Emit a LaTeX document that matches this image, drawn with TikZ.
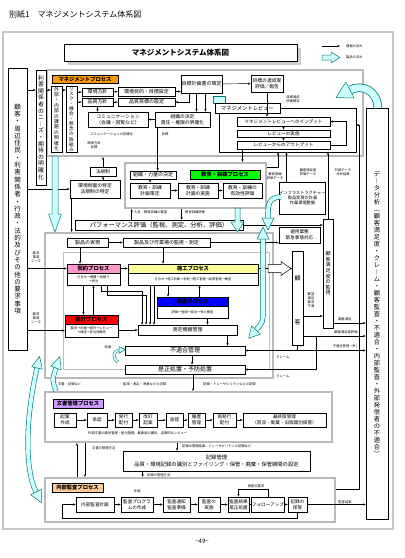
\documentclass[tikz,border=0pt]{standalone}
\usepackage{fontspec}
\setmainfont{Noto Sans CJK JP}
\usetikzlibrary{arrows.meta}
\definecolor{cOr}{RGB}{255,153,0}
\definecolor{cGr}{RGB}{0,255,0}
\definecolor{cPk}{RGB}{255,153,204}
\definecolor{cYe}{RGB}{255,255,153}
\definecolor{cBl}{RGB}{0,0,255}
\definecolor{cRd}{RGB}{255,0,0}
\definecolor{cLv}{RGB}{204,153,255}
\definecolor{cLo}{RGB}{255,204,153}
\definecolor{cCy}{RGB}{204,255,255}
\definecolor{cTl}{RGB}{0,120,120}
\makeatletter
\def\vt@loop#1{\ifx\relax#1\else\hbox to 0pt{\hss#1\hss}\expandafter\vt@loop\fi}
\newcommand\vtext[2]{\vbox{\lineskiplimit=-100pt\lineskip=0pt\baselineskip=#1pt\vt@loop#2\relax}}
\makeatother
\newcommand\fz[2]{\fontsize{#1}{#2}\selectfont}
\newcommand\bx[7][]{%
  \pgfmathsetmacro\bxw{#5-#3}\pgfmathsetmacro\bxh{#6-#4}%
  \node[boxx,minimum width=\bxw pt,minimum height=\bxh pt,#1] (#2) at ({(#3+#5)/2},{(#4+#6)/2}) {#7};}
\newcommand\cyshaft[3]{\draw[cTl,line width=#1] #3; \draw[cCy,line width=#2] #3;}
\begin{document}
\begin{tikzpicture}[x=1pt,y=-1pt,
  boxx/.style={draw,line width=0.7pt,fill=white,inner sep=0.3pt,align=center,font=\fz{5}{6}},
  labx/.style={boxx,font=\bfseries\fz{5.3}{6}},
  bodx/.style={boxx,line width=0.6pt,font=\fz{3.2}{4}},
  captx/.style={inner sep=0pt,align=center,font=\fz{3.3}{4}},
  gframe/.style={draw=gray!55,line width=2.2pt,fill=none},
  ar/.style={-{Stealth[length=2.6pt,width=2.2pt]},line width=0.45pt},
  lnx/.style={line width=0.45pt},
  cyf/.style={fill=cCy,draw=cTl,line width=0.5pt,line join=round}]
\useasboundingbox (0,0) rectangle (405,558);
\fill[white] (0,0) rectangle (405,558);

% title
\node[anchor=west,inner sep=0,font=\fz{8}{9}] (hdr) at (9,15) {別紙1　マネジメントシステム体系図};
\bx[draw=gray!45,line width=1.2pt,fill=none]{ofr}{3}{32}{393}{529}{}
\fill[gray!40] (68,48) rectangle (301,65);
\bx[line width=1pt,font=\bfseries\fz{7.5}{9}]{ttl}{64}{44}{297}{61}{マネジメントシステム体系図}

% legend
\coordinate (lga) at (322,46); \coordinate (lgb) at (340,46);
\draw[ar] (lga) -- (lgb);
\node[captx,anchor=west] (lgt1) at (346,46) {情報の流れ};
\filldraw[cyf] (322,55) -- (331,55) -- (331,52) -- (340,57.5) -- (331,63) -- (331,60) -- (322,60) -- cycle;
\node[captx,anchor=west] (lgt2) at (346,57.5) {製品の流れ};

% frames
\bx[gframe]{Mfr}{47}{70}{363}{156}{}
\bx[gframe]{Efr}{125}{163}{266}{208}{}
\bx[gframe]{Ffr}{45}{233}{273}{378}{}
\bx[draw=gray!50,line width=0.9pt,fill=none]{Fin}{63}{252}{269}{369}{}
\bx[gframe]{Dfr}{45}{392}{332}{442}{}
\bx[gframe]{Afr}{45}{478}{335}{522}{}

% big side boxes
\bx{cust}{8}{68}{27}{350}{\fz{6.5}{6.5}\vtext{7.3}{顧客・周辺住民・利害関係者・行政・法的及びその他の要求事項}}
\bx{need}{36}{70}{46}{185}{\fz{5.8}{5.8}\vtext{6.6}{利害関係者のニ︱ズ・期待の明確化}}
\bx{data}{366}{108}{388}{519}{\fz{6.2}{6.2}\vtext{7.0}{デ︱タ分析︵顧客満足度・クレ︱ム・顧客監査・不適合・内部監査・外部発信者の不適合︶}}

% management process
\bx[labx,fill=cOr]{mlab}{52}{75}{118}{83}{マネジメントプロセス}
\bx{iss}{51}{86}{62}{152}{\fz{4.8}{4.8}\vtext{5.4}{外部・内部の課題の明確化}}
\bx{risk}{66}{86}{77}{152}{\fz{4.6}{4.6}\vtext{5.1}{リスク・機会・懸念の取組み}}
\bx{kp}{82}{88}{113}{96}{環境方針}
\bx{hp}{82}{98}{113}{106}{品質方針}
\bx{km}{118}{87}{175}{96}{環境目的・目標設定}
\bx{hm}{118}{98}{175}{106}{品質目標の設定}
\bx{mk}{181}{75}{222}{93}{目標計画書の策定}
\bx[font=\fz{4.8}{6}]{ev}{251}{75}{283}{92}{目標の達成度\\評価／報告}
\bx[font=\fz{4.8}{6}]{com}{88}{112}{148}{127}{コミュニケーション\\（会議・回覧など）}
\bx[font=\fz{4.8}{6}]{org}{155}{112}{210}{127}{組織の決定\\責任・権限の明確化}
\filldraw[cyf] (213,96) rectangle (225,103);
\bx[fill=none]{mrf}{219}{108}{356}{152}{}
\bx[font=\fz{5.3}{6}]{mrlab}{215}{103}{280}{113}{マネジメントレビュー}
\bx[font=\fz{4.6}{5}]{rin}{237}{117}{330}{126}{マネジメントレビューへのインプット}
\bx[font=\fz{4.6}{5}]{rdo}{237}{130}{330}{137}{レビューの実施}
\bx[font=\fz{4.6}{5}]{rout}{237}{141}{330}{149}{レビューからのアウトプット}
\node[captx,anchor=west] (c1) at (90,134) {コミュニケーションの記録化};
\node[captx] (c2) at (165,134) {目標};
\node[captx] (c3) at (94,145) {環境方針\\目標};
\node[captx] (c4) at (293,99) {目標達成\\評価報告};

\coordinate (r90) at (0,90);
\draw[ar] (cust.east |- r90) -- (need.west |- r90);
\draw[ar] (need.east |- r90) -- (iss.west |- r90);
\draw[ar] (iss.east |- r90) -- (risk.west |- r90);
\draw[ar] (kp.west -| risk.east) -- (kp.west);
\draw[ar] (hp.west -| risk.east) -- (hp.west);
\draw[ar] (kp.east) -- (km.west);
\draw[ar] (hp.east) -- (hm.west);
\draw[ar] (km.east) -- (km.east -| mk.west);
\draw[ar] (mk) -- (ev);
\draw[ar] ([xshift=-12pt]mk.south) |- (hm.east);
\draw[ar] ([xshift=-5pt]mk.south) -- ([xshift=-5pt]mk.south |- org.north);
\draw[ar] ([xshift=4pt]mk.south) -- ([xshift=4pt]mk.south |- org.north);
\draw[ar] (org) -- (com);
\draw[ar] (hp.south) -- (hp.south |- com.north);
\draw[ar] (ev.south) -- (ev.south |- rin.north);
\draw[ar] (rin) -- (rdo);
\draw[ar] (rdo) -- (rout);
\coordinate (lpx) at (346,0);
\draw[ar] (rout.east) -- (rout.east -| lpx) -- (rin.east -| lpx) -- (rin.east);

% education
\bx{ok}{130}{171}{176}{179}{組織・力量の決定}
\bx[labx,fill=cGr]{elab}{190}{170}{260}{179}{教育・訓練プロセス}
\bx[font=\fz{4.8}{6}]{e1}{130}{183}{170}{198}{教育・訓練\\計画策定}
\bx[font=\fz{4.8}{6}]{e2}{178}{183}{218}{198}{教育・訓練\\計画の実施}
\bx[font=\fz{4.8}{6}]{e3}{223}{183}{262}{198}{教育・訓練の\\有効性評価}
\draw[ar] (ok.south -| e1) -- (e1.north);
\draw[ar] (e1) -- (e2);
\draw[ar] (e2) -- (e3);
\draw[ar] ([xshift=3pt]org.south west) -- ([xshift=3pt]org.south west |- ok.north);
\draw[ar] (rout.south -| e3) -- (e3 |- Efr.north);

\bx[font=\fz{4.8}{6}]{kas}{70}{180}{120}{198}{環境側面の特定\\法規制の特定}
\bx[font=\fz{4.6}{5}]{hk}{90}{167}{116}{176}{法規制}
\draw[ar] (hk.north) -- (hk.north |- Mfr.south);
\draw[ar] (kas.north -| hk) -- (hk.south);
\draw[ar] (cust.east |- kas) -- (kas.west);

% performance
\bx[font=\fz{6.3}{7}]{perf}{75}{220}{243}{230}{パフォーマンス評価（監視、測定、分析、評価）}
\node[captx,anchor=west] (c5) at (134,212) {入社・教育訓練の要望};
\node[captx,anchor=west] (c6) at (185,212) {教育訓練評価};
\draw[ar] ([xshift=2pt]perf.north -| e1.west) -- ([xshift=2pt]e1.west |- Efr.south);
\draw[ar] ([xshift=4pt]e2.west |- Efr.south) -- ([xshift=4pt]e2.west |- perf.north);
\draw[ar] ([xshift=2pt]kas.south west) -- ([xshift=2pt]kas.south west |- Ffr.north);

% product realization
\bx{jit}{67}{238}{108}{247}{製品の実現}
\bx{kans}{123}{238}{210}{247}{製品及び作業場の監視・測定}
\draw[ar] (jit) -- (kans);
\bx[labx,fill=cPk]{kei}{67}{264}{120}{273}{契約プロセス}
\bx[bodx]{keib}{67}{273}{120}{285}{打合せ→積算→見積り\\→受注}
\bx[labx,fill=cYe]{sek}{128}{264}{258}{273}{施工プロセス}
\bx[bodx]{sekb}{128}{273}{258}{285}{打合せ→施工計画→手配→施工管理→品質管理→検査}
\bx[labx,fill=cBl]{cho}{157}{297}{228}{306}{調達プロセス}
\bx[bodx]{chob}{157}{306}{228}{318}{評価→登録→発注→受入検査}
\bx[labx,fill=cRd]{sekk}{65}{315}{118}{324}{設計プロセス}
\bx[bodx]{sekkb}{65}{324}{118}{337}{要求→計画→設計→レビュー\\→検証→妥当性確認}
\bx{sok}{138}{325}{237}{335}{測定機器管理}
\bx[font=\fz{6}{7}]{fut}{125}{346}{245}{355}{不適合管理}
\bx[font=\fz{6}{7}]{zes}{125}{365}{245}{374}{是正処置・予防処置}
\node[captx] (c7) at (36,257) {要求\\事項\\ニーズ};
\node[captx] (c8) at (36,318) {要求\\事項\\ニーズ};
\node[captx] (c9) at (108,347) {改善};

\draw[ar] ([xshift=-7.5pt]jit.south) -- ([xshift=-7.5pt]jit.south |- kei.north);
\draw[ar] ([xshift=-3.5pt]kans.south) -- ([xshift=-3.5pt]kans.south |- sek.north);
\draw[ar] (kei) -- (sek);
\draw[ar] (cust.east |- kei) -- (kei.west);
\draw[ar] (cust.east |- sekkb) -- (sekkb.west);
\draw[ar] ([xshift=-10pt]keib.south) -- ([xshift=-10pt]keib.south |- sekk.north);
\draw[ar] ([xshift=2pt]sekk.north) -- ([xshift=2pt]sekk.north |- keib.south);
\draw[ar] ([xshift=-25pt]sekb.south) -- ([xshift=-25pt]sekb.south |- cho.north);
\draw[ar] ([xshift=7pt]cho.north) -- ([xshift=7pt]cho.north |- sekb.south);
\draw[ar] ([xshift=8pt]keib.south) -- ++(0,6) -| ([xshift=-45.5pt]sok.north);
\draw[ar] ([xshift=14pt]keib.south) -- ++(0,10) -| ([xshift=-41.5pt]sok.north);
\draw[ar] ([xshift=-43pt]sekb.south) -- ([xshift=-43pt]sekb.south |- sok.north);
\draw[ar] ([xshift=-39pt]sekb.south) -- ([xshift=-39pt]sekb.south |- sok.north);
\draw[ar] ([xshift=15pt]chob.south) -- ([xshift=15pt]chob.south |- sok.north);
\draw[ar] (sekkb.east |- sok) -- (sok.west);
\draw[ar] ([xshift=40pt]sok.south) -- ([xshift=40pt]sok.south |- fut.north);
\draw[ar] ([xshift=7pt]fut.south) -- ([xshift=7pt]fut.south |- zes.north);
\draw[ar] ([xshift=8pt]zes.south) -- ([xshift=8pt]zes.south |- Dfr.north);
\node[captx,anchor=west] (c10) at (58,384) {文書・記録など};
\node[captx,anchor=west] (c11) at (123,384) {監視・測定・改善などの記録};
\node[captx,anchor=west] (c12) at (203,384) {記録・トレーサビリティなどの記録};

% right side
\bx[font=\fz{4.2}{5.2}]{infra}{281}{182}{324}{214}{インフラストラクチャー\\製品実現の計画\\作業環境整備}
\bx[font=\fz{4.6}{5.6}]{tek}{279}{227}{320}{243}{適用業務\\緊急事態対応}
\bx{kok}{292}{251}{303}{345}{}
\node[inner sep=0,font=\fz{6}{6}] (kokA) at (297.5,278) {顧};
\node[inner sep=0,font=\fz{6}{6}] (kokB) at (297.5,322) {客};
\bx{csm}{323}{219}{333}{328}{\fz{5}{5}\vtext{5.6}{顧客満足度の監視}}
\draw[ar] (perf.east) -- (perf.east -| csm.west);
\draw[ar] (kans.east) -- (kans.east -| tek.west);
\draw[lnx] (sek.east) -- (sek.east -| kok.west);
\coordinate (r336) at (0,336); \coordinate (r323) at (0,323); \coordinate (r316) at (0,316);
\draw[ar] (kok.east |- r336) -- (data.west |- r336);
\draw[ar] (csm.east |- r323) -- (data.west |- r323);
\draw[ar] (kok.east |- r316) -- (csm.west |- r316);
\draw[ar] (fut.east) -- (data.west |- fut.east);
\draw[ar] (kok.south) |- (fut.east);
\coordinate (j1) at (316,336);
\draw[ar] (j1) |- (zes.east);
\node[captx] (c13) at (311,300) {要望\\満足\\要求\\不満};
\node[captx] (c14) at (345,319) {顧客満足};
\node[captx] (c15) at (346,332) {顧客満足度評価};
\node[captx] (c16) at (346,346) {不適合管理（外）};
\node[captx] (c17) at (283,357) {クレーム};
\node[captx] (c18) at (283,376) {クレーム};
\coordinate (x278) at (278,0); \coordinate (x359) at (359,0); \coordinate (r125) at (0,125);
\draw[ar] ([yshift=-5pt]Efr.north east) -| (x278 |- mrf.south);
\draw[ar] ([xshift=-16pt]infra.north) -- ([xshift=-16pt]infra.north |- mrf.south);
\draw[ar] (csm.north) -- (csm.north |- mrf.south);
\draw[ar] ([yshift=-12pt]Afr.north east) -| (x359 |- r125) -- (mrf.east |- r125);
\node[captx] (c19) at (275,176) {教育訓練\\評価データ};
\node[captx] (c20) at (308,172) {顧客満足度\\評価データ};
\node[captx] (c21) at (343,172) {外部データ\\分析結果};

% document management
\bx[labx,fill=cLv]{dlab}{53}{399}{103}{408}{文書管理プロセス}
\bx[font=\fz{4.6}{5.8}]{d1}{54}{413}{76}{427}{起案\\作成}
\bx[font=\fz{4.6}{5.8}]{d2}{87}{413}{107}{427}{承認}
\bx[font=\fz{4.6}{5.8}]{d3}{115}{413}{132}{427}{発行\\配付}
\bx[font=\fz{4.6}{5.8}]{d4}{139}{413}{157}{427}{改訂\\起案}
\bx[font=\fz{4.6}{5.8}]{d5}{166}{413}{183}{427}{承認}
\bx[font=\fz{4.6}{5.8}]{d6}{188}{413}{205}{427}{履歴\\管理}
\bx[font=\fz{4.6}{5.8}]{d7}{213}{413}{236}{427}{再発行\\配付}
\bx[font=\fz{4.6}{5.8}]{d8}{243}{413}{326}{427}{最終版管理\\（回収・廃棄・旧版識別保管）}
\foreach \a/\b in {d1/d2,d2/d3,d3/d4,d4/d5,d5/d6,d6/d7,d7/d8} \draw[ar] (\a) -- (\b);
\node[captx,anchor=west] (c22) at (88,433) {外部文書の識別管理・配付管理、最新版の識別、定期的なレビュー};
\bx[font=\fz{5.3}{7}]{rec}{123}{451}{310}{471}{記録管理\\品質・環境記録の識別とファイリング・保管・廃棄・保管期間の設定}
\node[captx,anchor=west] (c23) at (92,448) {文書の管理方法};
\node[captx,anchor=west] (c24) at (182,446) {記録の管理結果、トレーサビリティの記録など};
\node[captx,anchor=west] (c25) at (147,475) {記録の管理方法};
\draw[ar] ([xshift=33pt]Afr.north west) -- ([xshift=33pt]Dfr.south west);
\draw[ar] ([xshift=41pt]Dfr.south west) -- ([xshift=41pt]Afr.north west);
\draw[ar] ([xshift=133pt]Dfr.south west) -- ([xshift=133pt]Dfr.south west |- rec.north);
\draw[ar] ([xshift=20pt]rec.south west) -- ([xshift=20pt]rec.south west |- Afr.north);

% internal audit
\bx[labx,fill=cLo]{alab}{52}{483}{103}{492}{内部監査プロセス}
\bx[font=\fz{4.6}{5.8}]{a1}{76}{497}{114}{512}{内部監査計画}
\bx[font=\fz{4.6}{5.8}]{a2}{121}{497}{153}{512}{監査プログラ\\ムの作成}
\bx[font=\fz{4.6}{5.8}]{a3}{163}{497}{190}{512}{監査通知\\監査準備}
\bx[font=\fz{4.6}{5.8}]{a4}{198}{497}{220}{512}{監査の\\実施}
\bx[font=\fz{4.6}{5.8}]{a5}{228}{497}{249}{512}{監査結果\\是正処置}
\bx[font=\fz{4.6}{5.8}]{a6}{254}{497}{282}{512}{フォローアップ}
\bx[font=\fz{4.6}{5.8}]{a7}{288}{497}{307}{512}{記録の\\保管}
\foreach \a/\b in {a1/a2,a2/a3,a3/a4,a4/a5,a5/a6,a6/a7} \draw[ar] (\a) -- (\b);
\draw[ar] (a6.north) -- ++(0,-7) -| (a5.north);
\node[captx] (c26) at (256,486) {再是正要求};
\node[captx] (c27) at (137,491) {手順};
\draw[ar] (a7.south) -- ++(0,6) -| ([xshift=-13pt]a1.west) -- (a1.west);
\draw[ar] (a7.east) -- (a7.east -| data.west);
\node[captx] (c28) at (345,502) {監査結果};

% product-flow (hollow cyan) arrows
\filldraw[cyf] (52,156) -- (58,156) -- (58,214) -- (61.5,214) -- (55,232) -- (48.5,214) -- (52,214) -- cycle;
\filldraw[cyf] (235,208) -- (240,208) -- (240,222) -- (244,222) -- (237.5,232) -- (231,222) -- (235,222) -- cycle;
\cyshaft{5.2pt}{3.9pt}{(281,197) .. controls (268,197) and (268,205) .. (268,218)}
\filldraw[cyf] (262,218) -- (274,218) -- (268,230) -- cycle;
\cyshaft{5.2pt}{3.9pt}{(263,239) -- (263,310) .. controls (263,322) .. (256,330)}
\filldraw[cyf] (257,239) -- (269,239) -- (263,227) -- cycle;
\filldraw[cyf] (251.5,326) -- (260.5,334) -- (248.7,338.3) -- cycle;
\filldraw[fill=white,draw=black,line width=0.5pt] (268,264.5) -- (281,264.5) -- (281,261.5) -- (291,268.5) -- (281,275.5) -- (281,272.5) -- (268,272.5) -- cycle;
\cyshaft{5pt}{3.8pt}{(56,391) .. controls (52,380) .. (56,368)}
\filldraw[cyf] (61.2,369.8) -- (50.8,366.2) -- (59.8,356.6) -- cycle;
\cyshaft{5pt}{3.8pt}{(37,368) .. controls (25,420) and (25,470) .. (36,492)}
\filldraw[cyf] (42.3,369.2) -- (31.7,366.8) -- (39.6,356.4) -- cycle;
\filldraw[cyf] (41.3,489.3) -- (30.7,494.7) -- (41.4,502.7) -- cycle;
\cyshaft{8.5pt}{7pt}{(378,108) .. controls (377,90) and (362,84) .. (350,90)}
\filldraw[cyf] (354.1,98) -- (345.9,82) -- (336,97.5) -- cycle;
\cyshaft{2.8pt}{1.8pt}{(118,362) .. controls (112,358) and (113,351) .. (119,350)}
\filldraw[cyf] (119,346.5) -- (119,353.5) -- (125,349.5) -- cycle;

% footer
\node[inner sep=0,font=\fz{6}{7}] (pg) at (202,541) {−49−};
\end{tikzpicture}
\end{document}
